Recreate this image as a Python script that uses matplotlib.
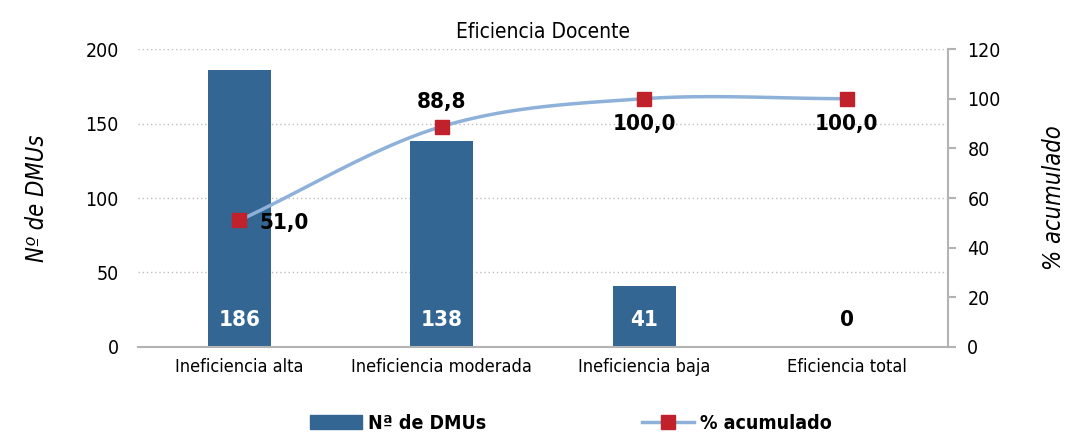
import numpy as np
import matplotlib
matplotlib.use("Agg")
import matplotlib.pyplot as plt
from matplotlib.patches import Patch
from matplotlib.lines import Line2D

plt.rcParams["font.family"] = ["DejaVu Sans"]
plt.rcParams["font.stretch"] = "condensed"
plt.rcParams["font.size"] = 13

categories = ["Ineficiencia alta", "Ineficiencia moderada", "Ineficiencia baja", "Eficiencia total"]
n_dmus = [186, 138, 41, 0]
pct_acum = [51.0, 88.8, 100.0, 100.0]

bar_color = "#336693"
line_color = "#8db1d9"
marker_color = "#c0212b"
spine_color = "#b3b3b3"


def catmull_rom(x, y, steps=40):
    # smoothed path through the points, like a spreadsheet "smoothed line"
    px = np.concatenate([[2 * x[0] - x[1]], x, [2 * x[-1] - x[-2]]])
    py = np.concatenate([[2 * y[0] - y[1]], y, [2 * y[-1] - y[-2]]])
    xs, ys = [], []
    for i in range(1, len(px) - 2):
        t = np.linspace(0, 1, steps)
        for p, out in ((px, xs), (py, ys)):
            p0, p1, p2, p3 = p[i - 1], p[i], p[i + 1], p[i + 2]
            out.append(0.5 * ((2 * p1) + (-p0 + p2) * t
                              + (2 * p0 - 5 * p1 + 4 * p2 - p3) * t ** 2
                              + (-p0 + 3 * p1 - 3 * p2 + p3) * t ** 3))
    return np.concatenate(xs), np.concatenate(ys)


fig = plt.figure(figsize=(10.71, 4.34), dpi=100)
ax = fig.add_axes([0.129, 0.2005, 0.756, 0.6865])
x = np.arange(len(categories))

ax.bar(x, n_dmus, width=0.31, color=bar_color, zorder=2)
ax.set_xlim(-0.5, 3.5)
ax.set_ylim(0, 200)
ax.set_yticks([0, 50, 100, 150, 200])
ax.set_xticks(x)
ax.set_xticklabels(categories)
ax.grid(axis="y", color="#bfbfbf", ls=(0, (1, 2)), lw=1)
ax.set_axisbelow(True)
ax.tick_params(axis="y", length=0, pad=14, labelsize=14)
ax.tick_params(axis="x", length=0, pad=8)
for s in ["left", "top", "right"]:
    ax.spines[s].set_visible(False)
ax.spines["bottom"].set_color(spine_color)
ax.spines["bottom"].set_linewidth(1.5)
ax.set_ylabel("Nº de DMUs", style="italic", fontsize=17, labelpad=26)
ax.set_title("Eficiencia Docente", fontsize=15, pad=8)

for xi, v in zip(x, n_dmus):
    ax.text(xi, 18, str(v), ha="center", va="center", fontsize=16, fontweight="bold",
            color="white" if v > 0 else "black", zorder=3)

ax2 = ax.twinx()
ax2.set_ylim(0, 120)
ax2.set_yticks(range(0, 121, 20))
for s in ["left", "top", "bottom"]:
    ax2.spines[s].set_visible(False)
ax2.spines["right"].set_color(spine_color)
ax2.spines["right"].set_linewidth(1.5)
ax2.tick_params(axis="y", length=6, width=1.5, color=spine_color, pad=8, labelsize=14)
ax2.set_ylabel("% acumulado", style="italic", fontsize=17, rotation=90, labelpad=30)

sx, sy = catmull_rom(x.astype(float), np.array(pct_acum))
ax2.plot(sx, sy, color=line_color, lw=2.5, zorder=3)
ax2.plot(x, pct_acum, ls="none", marker="s", ms=10, color=marker_color, zorder=4)

label_offsets = [(0.22, -1), (0, 10), (0, -10), (0, -10)]
for xi, v, (dx, dy) in zip(x, pct_acum, label_offsets):
    ax2.text(xi + dx, v + dy, f"{v:.1f}".replace(".", ","), ha="center", va="center",
             fontsize=16, fontweight="bold", zorder=5)

handles = [Patch(color=bar_color),
           Line2D([0], [0], color=line_color, lw=2.5, marker="s", ms=10,
                  markerfacecolor=marker_color, markeredgecolor=marker_color)]
fig.legend(handles, ["Nª de DMUs", "% acumulado"], loc="center", bbox_to_anchor=(0.533, 0.025),
           ncol=2, frameon=False, columnspacing=8, handlelength=2.67, handletextpad=0.3,
           prop={"weight": "bold", "size": 14})

fig.savefig("out.png", dpi=100)
